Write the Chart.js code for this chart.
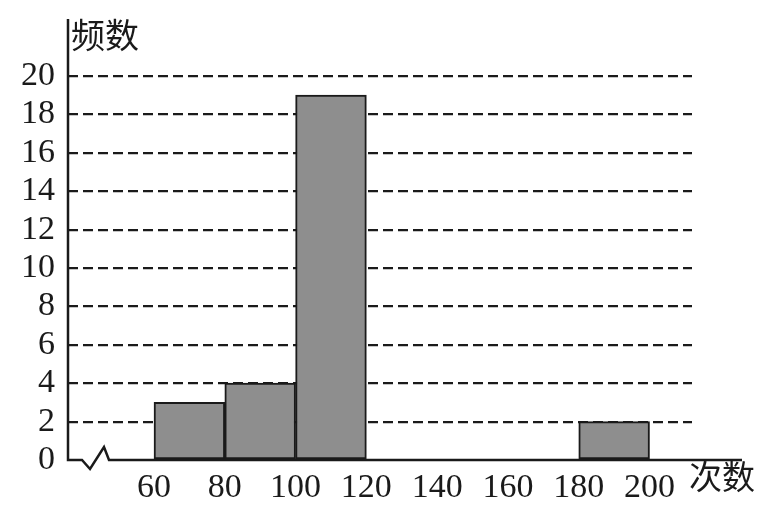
<!DOCTYPE html>
<html>
<head>
<meta charset="utf-8">
<script src="https://cdn.jsdelivr.net/npm/chart.js@4"></script>
<style>
  html, body { margin: 0; padding: 0; background: #fff; }
  #wrap { width: 783px; height: 505px; }
</style>
</head>
<body>
<div id="wrap"><canvas id="histChart" width="783" height="505"></canvas></div>
<script>
// bins (left edges), width 20
const binStarts = [60, 80, 100, 120, 140, 160, 180];
const binWidth = 20;
const freq = [3, 4, 19, 0, 0, 0, 2];
const xTicks = [60, 80, 100, 120, 140, 160, 180, 200];
const yTicks = [0, 2, 4, 6, 8, 10, 12, 14, 16, 18, 20];
const yTitle = "频数";
const xTitle = "次数";

const ink = "#1a1a1a";
const digitFont = { family: "'Liberation Serif', 'DejaVu Serif', serif", size: 34 };

const points = binStarts.map((s, i) => ({ x: s + binWidth / 2, y: freq[i] }));

// axes with the break mark, and the two axis titles
const axisPlugin = {
    id: "axisPlugin",
    afterDatasetsDraw(chart) {
        const ctx = chart.ctx;
        const area = chart.chartArea;
        const y0 = chart.scales.y.getPixelForValue(0);
        const left = area.left;
        ctx.save();
        ctx.strokeStyle = ink;
        ctx.lineWidth = 2.5;
        ctx.lineJoin = "miter";
        // y axis
        ctx.beginPath();
        ctx.moveTo(left, 19);
        ctx.lineTo(left, y0);
        // x axis with zigzag break
        ctx.lineTo(left + 14, y0);
        ctx.lineTo(left + 22, y0 + 9);
        ctx.lineTo(left + 36, y0 - 13);
        ctx.lineTo(left + 41, y0);
        ctx.lineTo(742, y0);
        ctx.stroke();

        ctx.fillStyle = ink;
        ctx.textBaseline = "top";
        ctx.textAlign = "left";
        ctx.font = "34px 'Noto Sans CJK SC'";
        ctx.fillText(yTitle, left + 3, 18);
        ctx.font = "33px 'Noto Sans CJK SC'";
        ctx.fillText(xTitle, 689, 460);
        ctx.restore();
    }
};

const ctx = document.getElementById("histChart").getContext("2d");
const chart = new Chart(ctx, {
    type: "bar",
    data: {
        datasets: [{
            data: points,
            backgroundColor: "#8e8e8e",
            borderColor: ink,
            borderWidth: 2,
            borderSkipped: false,
            barPercentage: 1,
            categoryPercentage: 1
        }]
    },
    options: {
        responsive: false,
        animation: false,
        layout: { padding: { top: 76, right: 91, left: 0, bottom: 0 } },
        plugins: {
            legend: { display: false },
            tooltip: { enabled: false }
        },
        scales: {
            x: {
                type: "linear",
                offset: false,
                min: 35.7,
                max: 212,
                grid: { display: false },
                border: { display: false },
                afterBuildTicks: (scale) => { scale.ticks = xTicks.map(v => ({ value: v })); },
                afterFit: (scale) => { scale.height = 45; },
                ticks: {
                    color: ink,
                    font: digitFont,
                    padding: 0,
                    maxRotation: 0,
                    autoSkip: false
                }
            },
            y: {
                min: 0,
                max: 20,
                afterBuildTicks: (scale) => { scale.ticks = yTicks.map(v => ({ value: v })); },
                afterFit: (scale) => { scale.width = 68; },
                border: { display: false, dash: [10, 5] },
                grid: {
                    drawTicks: false,
                    color: (c) => (c.tick && c.tick.value === 0) ? "rgba(0,0,0,0)" : ink,
                    lineWidth: 2.2
                },
                ticks: {
                    color: ink,
                    font: digitFont,
                    padding: 13,
                    autoSkip: false
                }
            }
        }
    },
    plugins: [axisPlugin]
});
</script>
</body>
</html>
